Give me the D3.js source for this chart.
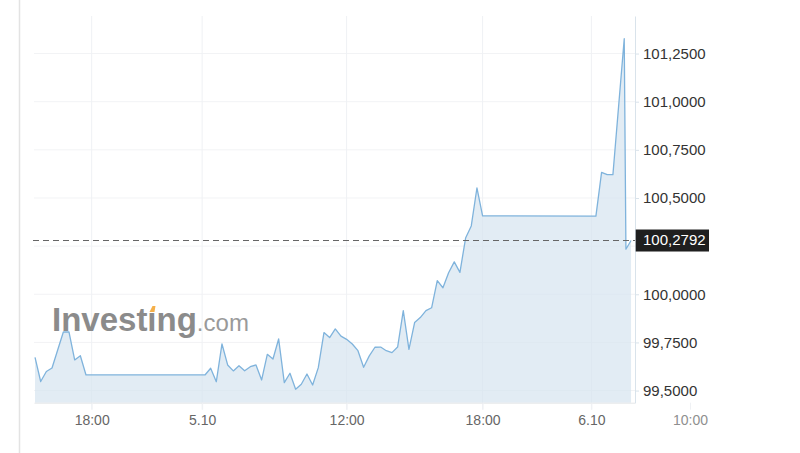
<!DOCTYPE html>
<html>
<head>
<meta charset="utf-8">
<script src="https://cdn.jsdelivr.net/npm/d3@7"></script>
<style>
  body { margin: 0; background: #fff; overflow: hidden; }
  .chart text { font-family: Arial, "Liberation Sans", sans-serif; }
</style>
</head>
<body>
<div class="chart"></div>
<script>
// sample slots (points are evenly spaced by slot, gaps = flat stretches)
const pos = [0, 1, 2, 3, 4, 5, 6, 7, 8, 9,
  30, 31, 32, 33, 34, 35, 36, 37, 38, 39, 40, 41, 42, 43, 44, 45, 46, 47, 48, 49,
  50, 51, 52, 53, 54, 55, 56, 57, 58, 59, 60, 61, 62, 63, 64, 65, 66, 67, 68, 69,
  70, 71, 72, 73, 74, 75, 76, 77, 78, 79,
  99, 100, 101, 102, 104, 104.3, 105.2]

const vals = [99.672, 99.547, 99.599, 99.617, 99.711, 99.804, 99.804, 99.659, 99.681, 99.581,
  99.581, 99.616, 99.546, 99.742, 99.633, 99.602, 99.629, 99.603, 99.624, 99.633,
  99.555, 99.688, 99.664, 99.768, 99.541, 99.590, 99.507, 99.533, 99.586, 99.529,
  99.619, 99.801, 99.775, 99.820, 99.783, 99.766, 99.742, 99.707, 99.621, 99.680,
  99.725, 99.726, 99.707, 99.697, 99.726, 99.915, 99.714, 99.853, 99.879, 99.915,
  99.930, 100.071, 100.034, 100.112, 100.168, 100.114, 100.292, 100.355, 100.552, 100.407,
  100.406, 100.633, 100.621, 100.621, 101.327, 100.234, 100.2792]

const xTickPos = [10, 29.5, 55, 79, 98.2, 115.6]
const xTickLabels = ['18:00', '5.10', '12:00', '18:00', '6.10', '10:00']
const yTicks = [99.5, 99.75, 100, 100.25, 100.5, 100.75, 101, 101.25]
const lastPrice = 100.2792

const data = pos.map((p, i) => ({pos: p, val: vals[i]}))

// canvas
const W = 800, H = 453
const margin = {top: 16, right: 165, bottom: 50.3, left: 34}
const width = W - margin.left - margin.right
const height = H - margin.top - margin.bottom

const fmt = d3.formatLocale({decimal: ',', thousands: '.', grouping: [3], currency: ['', '']}).format('.4f')

const root = d3.select('.chart').append('svg')
  .attr('width', W)
  .attr('height', H)

// page border on the left
root.append('line')
  .attr('x1', 19.5).attr('x2', 19.5)
  .attr('y1', 0).attr('y2', H)
  .attr('stroke', '#e3e3e3')
  .attr('stroke-width', 1.5)

const svg = root.append('g')
  .attr('transform', 'translate(' + margin.left + ',' + margin.top + ')')

const xScale = d3.scaleLinear()
  .domain([-0.18, 105.9])
  .range([0, width])

const yScale = d3.scaleLinear()
  .domain([99.437, 101.445])
  .range([height, 0])

// grid
svg.append('g')
  .selectAll('line')
  .data(yTicks)
  .enter().append('line')
  .attr('x1', 0).attr('x2', width)
  .attr('y1', d => yScale(d)).attr('y2', d => yScale(d))
  .attr('stroke', '#f2f3f5')

svg.append('g')
  .selectAll('line')
  .data(xTickPos.filter(d => xScale(d) < width))
  .enter().append('line')
  .attr('x1', d => xScale(d)).attr('x2', d => xScale(d))
  .attr('y1', 0).attr('y2', height + 7)
  .attr('stroke', '#eff1f4')

// watermark
const logo = svg.append('g').attr('transform', 'translate(' + (52 - margin.left) + ',' + (331 - margin.top) + ')')
const logoText = logo.append('text')
  .attr('x', 0).attr('y', 0)
logoText.append('tspan')
  .text('Invest\u0131ng')
  .attr('font-size', 33)
  .attr('font-weight', 'bold')
  .attr('fill', '#8b8b8b')
logoText.append('tspan')
  .text('.com')
  .attr('font-size', 24)
  .attr('fill', '#9a9a9a')
const iNode = logoText.select('tspan').node()
const iStart = iNode.getSubStringLength(0, 6)
const iWidth = iNode.getSubStringLength(6, 1)
const dx = iStart + iWidth / 2
logo.append('path')
  .attr('d', 'M' + (dx - 2.5) + ',-19 L' + (dx + 0.5) + ',-25 L' + (dx + 3.5) + ',-25 L' + (dx + 2.5) + ',-19 Z')
  .attr('fill', '#f5b04a')

// area + line
const area = d3.area()
  .x(d => xScale(d.pos))
  .y0(height)
  .y1(d => yScale(d.val))

const line = d3.line()
  .x(d => xScale(d.pos))
  .y(d => yScale(d.val))

svg.append('path')
  .datum(data)
  .attr('d', area)
  .attr('fill', '#d6e4ef')
  .attr('fill-opacity', 0.7)

svg.append('path')
  .datum(data)
  .attr('d', line)
  .attr('fill', 'none')
  .attr('stroke', '#7fb3dc')
  .attr('stroke-width', 1.3)
  .attr('stroke-linejoin', 'round')

// current price line
svg.append('line')
  .attr('x1', -1).attr('x2', width)
  .attr('y1', yScale(lastPrice)).attr('y2', yScale(lastPrice))
  .attr('stroke', '#666')
  .attr('stroke-dasharray', '6,4')

// X-axis
const xAxis = d3.axisBottom(xScale)
  .tickValues(xTickPos)
  .tickFormat((d, i) => xTickLabels[i])
  .tickSize(7)
  .tickSizeOuter(0)
  .tickPadding(5.4)

const gx = svg.append('g')
  .attr('transform', 'translate(0,' + height + ')')
  .call(xAxis)
gx.select('.domain').attr('stroke', '#e4e6e8')
gx.selectAll('.tick line').attr('stroke', '#eff1f4')
gx.selectAll('.tick text')
  .attr('font-size', 14)
  .attr('fill', (d, i) => i === xTickLabels.length - 1 ? '#8f8f8f' : '#666')

// Y-axis (a label hidden by the price box is left out)
const yAxis = d3.axisRight(yScale)
  .tickValues(yTicks)
  .tickFormat(d => Math.abs(yScale(d) - yScale(lastPrice)) < 16 ? '' : fmt(d))
  .tickSize(4)
  .tickSizeOuter(0)
  .tickPadding(4)

const gy = svg.append('g')
  .attr('transform', 'translate(' + width + ',0)')
  .call(yAxis)
gy.select('.domain').attr('stroke', '#d9e3eb')
gy.selectAll('.tick line').attr('stroke', '#d9e3eb')
gy.selectAll('.tick text')
  .attr('font-size', 15)
  .attr('fill', '#333')

// current price label
const priceLabel = svg.append('g')
  .attr('transform', 'translate(' + width + ',' + yScale(lastPrice) + ')')
priceLabel.append('rect')
  .attr('x', 0.7).attr('y', -11)
  .attr('width', 73.3).attr('height', 22)
  .attr('fill', '#1f1f1f')
priceLabel.append('text')
  .attr('x', 8).attr('dy', '0.32em')
  .attr('font-size', 15)
  .attr('fill', '#fff')
  .text(fmt(lastPrice))
</script>
</body>
</html>
